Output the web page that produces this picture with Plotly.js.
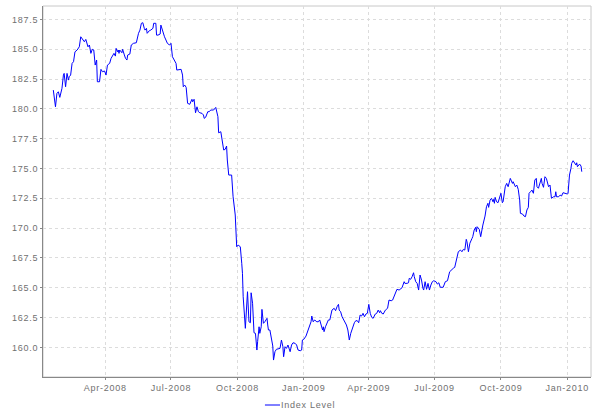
<!DOCTYPE html>
<html>
<head>
<meta charset="utf-8">
<script src="https://cdn.plot.ly/plotly-3.0.1.min.js"></script>
<style>
html,body{margin:0;padding:0;background:#fff;}
#chart{width:600px;height:416px;}
#chart .xtick text, #chart .ytick text, #chart .annotation-text{letter-spacing:0.75px;}
</style>
</head>
<body>
<div id="chart"></div>
<script>
const seriesName = "Index Level";
const dates = [
"2008-01-20","2008-01-23","2008-01-25","2008-01-27","2008-01-29","2008-02-01","2008-02-03","2008-02-04","2008-02-06","2008-02-08",
"2008-02-10","2008-02-11","2008-02-13","2008-02-15","2008-02-17","2008-02-19","2008-02-22","2008-02-25","2008-02-27","2008-03-01",
"2008-03-03","2008-03-05","2008-03-08","2008-03-10","2008-03-12","2008-03-14","2008-03-16","2008-03-18","2008-03-20","2008-03-21",
"2008-03-24","2008-03-26","2008-03-28","2008-03-31","2008-04-02","2008-04-04","2008-04-07","2008-04-09","2008-04-11","2008-04-13",
"2008-04-15","2008-04-16","2008-04-18","2008-04-19","2008-04-20","2008-04-21","2008-04-24","2008-04-25","2008-04-27","2008-04-29",
"2008-05-01","2008-05-02","2008-05-05","2008-05-07","2008-05-10","2008-05-12","2008-05-14","2008-05-17","2008-05-19","2008-05-21",
"2008-05-23","2008-05-25","2008-05-26","2008-05-28","2008-05-29","2008-06-01","2008-06-03","2008-06-06","2008-06-07","2008-06-10",
"2008-06-11","2008-06-13","2008-06-16","2008-06-17","2008-06-20","2008-06-22","2008-06-24","2008-06-26","2008-06-29","2008-07-01",
"2008-07-03","2008-07-05","2008-07-08","2008-07-09","2008-07-13","2008-07-15","2008-07-17","2008-07-18","2008-07-20","2008-07-22",
"2008-07-24","2008-07-27","2008-07-30","2008-07-31","2008-08-02","2008-08-04","2008-08-06","2008-08-08","2008-08-10","2008-08-13",
"2008-08-15","2008-08-16","2008-08-18","2008-08-21","2008-08-23","2008-08-25","2008-08-29","2008-09-01","2008-09-04","2008-09-05",
"2008-09-08","2008-09-11","2008-09-12","2008-09-14","2008-09-16","2008-09-17","2008-09-19","2008-09-23","2008-09-24","2008-09-25",
"2008-09-28","2008-09-29","2008-09-30","2008-10-02","2008-10-05","2008-10-07","2008-10-08","2008-10-09","2008-10-11","2008-10-12",
"2008-10-15","2008-10-17","2008-10-19","2008-10-20","2008-10-22","2008-10-23","2008-10-24","2008-10-26","2008-10-28","2008-10-29",
"2008-10-31","2008-11-01","2008-11-03","2008-11-04","2008-11-06","2008-11-08","2008-11-11","2008-11-12","2008-11-13","2008-11-15",
"2008-11-17","2008-11-19","2008-11-20","2008-11-22","2008-11-24","2008-11-27","2008-11-29","2008-12-01","2008-12-03","2008-12-04",
"2008-12-06","2008-12-08","2008-12-10","2008-12-13","2008-12-15","2008-12-17","2008-12-20","2008-12-22","2008-12-24","2008-12-27",
"2008-12-29","2008-12-30","2009-01-01","2009-01-04","2009-01-06","2009-01-09","2009-01-11","2009-01-12","2009-01-14","2009-01-16",
"2009-01-19","2009-01-21","2009-01-23","2009-01-25","2009-01-27","2009-01-28","2009-01-29","2009-01-31","2009-02-02","2009-02-04",
"2009-02-06","2009-02-08","2009-02-09","2009-02-12","2009-02-14","2009-02-16","2009-02-18","2009-02-19","2009-02-21","2009-02-23",
"2009-02-25","2009-02-27","2009-03-01","2009-03-03","2009-03-05","2009-03-07","2009-03-10","2009-03-12","2009-03-14","2009-03-16",
"2009-03-18","2009-03-20","2009-03-22","2009-03-24","2009-03-26","2009-03-28","2009-03-30","2009-04-01","2009-04-03","2009-04-05",
"2009-04-07","2009-04-10","2009-04-12","2009-04-14","2009-04-16","2009-04-17","2009-04-19","2009-04-21","2009-04-24","2009-04-27",
"2009-04-29","2009-05-02","2009-05-04","2009-05-06","2009-05-09","2009-05-10","2009-05-13","2009-05-15","2009-05-17","2009-05-20",
"2009-05-21","2009-05-24","2009-05-26","2009-05-27","2009-05-29","2009-05-31","2009-06-02","2009-06-03","2009-06-05","2009-06-07",
"2009-06-09","2009-06-11","2009-06-13","2009-06-15","2009-06-16","2009-06-18","2009-06-20","2009-06-22","2009-06-24","2009-06-26",
"2009-06-28","2009-06-30","2009-07-03","2009-07-05","2009-07-07","2009-07-09","2009-07-13","2009-07-16","2009-07-19","2009-07-22",
"2009-07-24","2009-07-27","2009-07-29","2009-08-01","2009-08-03","2009-08-06","2009-08-08","2009-08-10","2009-08-12","2009-08-14",
"2009-08-15","2009-08-17","2009-08-19","2009-08-22","2009-08-23","2009-08-25","2009-08-27","2009-08-28","2009-08-29","2009-09-01",
"2009-09-03","2009-09-06","2009-09-09","2009-09-11","2009-09-13","2009-09-14","2009-09-16","2009-09-18","2009-09-20","2009-09-21",
"2009-09-22","2009-09-23","2009-09-25","2009-09-27","2009-09-29","2009-10-01","2009-10-03","2009-10-04","2009-10-07","2009-10-09",
"2009-10-11","2009-10-14","2009-10-15","2009-10-17","2009-10-18","2009-10-21","2009-10-23","2009-10-25","2009-10-27","2009-10-28",
"2009-10-31","2009-11-02","2009-11-04","2009-11-06","2009-11-08","2009-11-09","2009-11-11","2009-11-13","2009-11-15","2009-11-17",
"2009-11-19","2009-11-20","2009-11-22","2009-11-24","2009-11-26","2009-11-27","2009-11-29","2009-12-01","2009-12-03","2009-12-06",
"2009-12-08","2009-12-10","2009-12-13","2009-12-15","2009-12-16","2009-12-17","2009-12-20","2009-12-22","2009-12-24","2009-12-26",
"2009-12-29","2010-01-01","2010-01-02","2010-01-04","2010-01-06","2010-01-07","2010-01-09","2010-01-11","2010-01-13","2010-01-14",
"2010-01-15","2010-01-18","2010-01-20","2010-01-21"
];
const indexLevel = [
181.57,180.17,181.30,181.43,180.96,181.72,182.83,182.97,181.85,182.97,
182.41,182.69,182.83,183.81,183.95,184.78,184.93,185.20,186.04,185.77,
185.62,185.82,185.20,185.35,184.65,184.99,184.93,183.67,184.09,182.27,
182.27,183.31,183.11,183.17,182.83,183.67,183.81,184.23,184.51,184.65,
184.42,185.07,184.78,184.93,184.65,184.93,184.70,184.99,184.59,184.23,
184.09,184.51,184.59,185.35,185.49,185.49,185.54,186.33,186.60,187.17,
187.22,186.75,186.60,186.75,186.33,186.55,186.60,186.75,187.17,187.17,
186.18,186.18,186.27,187.02,186.33,186.04,185.77,185.49,185.35,185.49,
184.37,184.09,183.81,183.25,183.25,183.31,182.83,181.85,181.99,181.80,
180.46,180.38,180.80,180.59,180.80,179.67,180.17,179.76,179.67,179.62,
179.48,179.20,179.29,179.76,179.76,179.90,179.90,180.12,179.34,177.99,
178.08,176.82,176.55,176.60,176.88,175.71,174.45,174.45,173.47,172.63,
171.10,169.84,168.44,168.58,168.44,167.05,166.21,164.25,161.60,161.60,
164.67,162.15,162.07,164.58,163.70,162.30,161.23,161.18,159.78,160.48,
161.73,161.18,161.73,163.19,162.02,162.15,162.44,161.88,161.46,161.46,
160.90,160.12,158.94,159.64,159.84,159.89,159.92,160.62,160.06,159.22,
160.06,159.92,160.20,159.64,160.20,160.39,160.34,160.20,159.78,159.72,
159.78,160.62,160.68,160.95,161.32,161.88,162.15,162.63,162.15,162.30,
162.15,162.15,162.30,161.88,161.46,161.73,161.32,161.73,162.02,162.30,
162.30,162.72,163.13,163.28,163.08,163.41,163.61,163.13,162.99,162.57,
162.35,162.15,161.88,161.46,160.62,161.18,161.73,162.07,162.24,162.24,
162.07,162.72,162.63,162.86,162.57,162.80,162.86,163.61,162.86,162.52,
162.44,162.80,162.86,163.13,162.91,163.08,162.86,162.80,163.13,163.28,
163.97,163.91,163.97,164.31,164.75,164.87,164.81,164.95,165.00,165.51,
165.37,165.37,165.42,165.79,165.71,165.93,166.26,165.93,165.51,165.37,
164.81,166.07,165.65,164.95,164.81,165.51,164.87,165.37,164.81,165.23,
165.51,165.59,165.51,165.31,165.42,165.04,165.04,165.51,165.59,166.34,
166.49,166.63,166.71,167.55,168.02,168.16,168.02,168.22,168.16,169.06,
168.86,168.02,168.73,169.14,169.28,169.84,170.07,169.70,170.12,169.90,
169.28,170.26,171.01,171.79,172.08,171.74,172.35,172.50,172.21,172.41,
172.08,172.58,172.21,172.13,172.63,172.92,172.13,172.21,173.47,173.75,
173.47,174.17,174.03,173.75,173.89,173.47,173.61,173.25,172.35,171.24,
171.18,171.01,170.96,171.52,171.74,172.92,173.05,173.19,172.92,174.03,
174.17,173.47,173.34,173.89,174.17,173.75,173.42,174.31,174.17,173.47,
173.61,172.50,172.63,172.63,173.05,172.63,172.63,172.77,172.69,172.97,
172.92,172.86,172.92,174.45,175.01,175.43,175.65,175.43,175.29,175.48,
175.15,175.37,175.20,174.73
];
const xRange = ["2008-01-05 17:00", "2010-02-02 19:00"];
const yRange = [157.52, 188.62];

const trace = {
  x: dates, y: indexLevel, type: "scatter", mode: "lines", name: seriesName,
  line: {color: "#0000ff", width: 1}, showlegend: false
};
const textFont = {family: "Liberation Sans, Arial, sans-serif", size: 9, color: "#707070"};
const layout = {
  width: 600, height: 416,
  margin: {l: 43, r: 9, t: 6, b: 39, pad: 0},
  paper_bgcolor: "#ffffff", plot_bgcolor: "#ffffff",
  xaxis: {
    type: "date", range: xRange, tick0: "2008-01-01", dtick: "M3", tickformat: "%b-%Y",
    showgrid: true, gridcolor: "#dcdcdc", griddash: "3px,3px", gridwidth: 1,
    showline: true, linecolor: "#888888", linewidth: 1,
    ticks: "outside", ticklen: 2, tickcolor: "#888888", tickfont: textFont, zeroline: false
  },
  yaxis: {
    range: yRange, tick0: 160, dtick: 2.5, tickformat: ".1f",
    showgrid: true, gridcolor: "#dcdcdc", griddash: "3px,3px", gridwidth: 1,
    showline: true, linecolor: "#888888", linewidth: 1,
    ticks: "outside", ticklen: 2, tickcolor: "#888888", tickfont: textFont, zeroline: false
  },
  shapes: [
    {type: "rect", xref: "paper", yref: "paper", x0: 0, x1: 1, y0: 0, y1: 1,
     line: {color: "#c8c8c8", width: 1}, fillcolor: "rgba(0,0,0,0)", layer: "below"},
    {type: "line", xref: "paper", yref: "paper", x0: 0.405, x1: 0.4325, y0: -0.0755, y1: -0.0755,
     line: {color: "#0000ff", width: 1}}
  ],
  annotations: [
    {xref: "paper", yref: "paper", x: 0.4375, y: -0.0755, xanchor: "left", yanchor: "middle",
     text: seriesName, showarrow: false, font: textFont}
  ]
};
Plotly.newPlot("chart", [trace], layout, {displayModeBar: false, staticPlot: true});
</script>
</body>
</html>
